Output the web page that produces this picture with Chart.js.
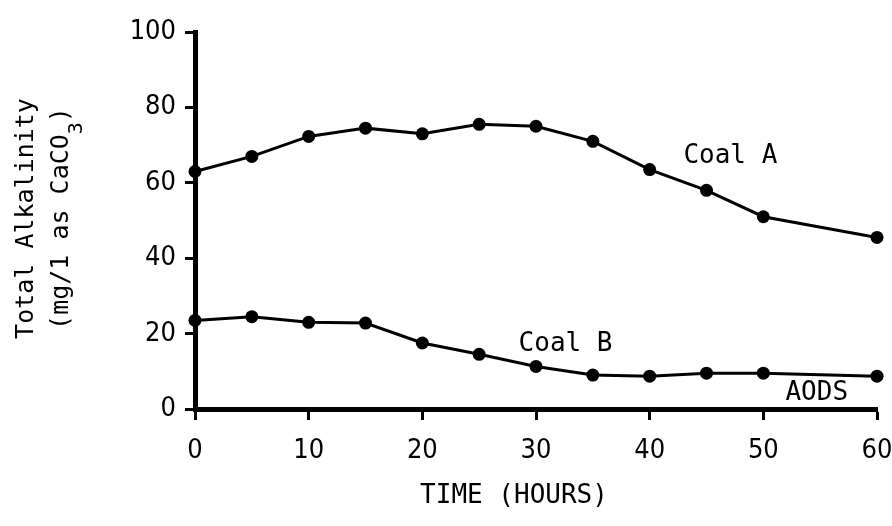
<!DOCTYPE html>
<html>
<head>
<meta charset="utf-8">
<script src="https://cdn.jsdelivr.net/npm/chart.js@4.4.1/dist/chart.umd.min.js"></script>
<style>
  html, body { margin: 0; padding: 0; background: #fff; }
  #wrap { width: 892px; height: 526px; }
</style>
</head>
<body>
<div id="wrap"><canvas id="c" width="892" height="526"></canvas></div>
<script>
// Sampling times (hours) and total alkalinity (mg/l as CaCO3) per coal
const hours = [0, 5, 10, 15, 20, 25, 30, 35, 40, 45, 50, 60];
const coalA = [63, 67, 72.3, 74.5, 73, 75.5, 75, 71, 63.5, 58, 51, 45.5];
const coalB = [23.5, 24.5, 23, 22.8, 17.5, 14.5, 11.3, 9, 8.7, 9.5, 9.5, 8.7];

// Axis ticks
const xTicks = [0, 10, 20, 30, 40, 50, 60];
const yTicks = [0, 20, 40, 60, 80, 100];

// Text drawn on the plot
const curveLabels = ['Coal A', 'Coal B', 'AODS'];
const xTitle = 'TIME (HOURS)';
const yTitleLine1 = 'Total Alkalinity';
const yTitleLine2 = ['(mg/1 as CaCO', '3', ')'];

const MONO = '"DejaVu Sans Mono", "Liberation Mono", monospace';
const NARROW = '"Liberation Sans Narrow", "DejaVu Sans Condensed", "Liberation Sans", sans-serif';

const toPoints = vals => hours.map((h, i) => ({ x: h, y: vals[i] }));

const lineStyle = {
  borderColor: '#000',
  borderWidth: 3,
  pointRadius: 6.5,
  pointHoverRadius: 6.5,
  pointBackgroundColor: '#000',
  pointBorderWidth: 0,
  tension: 0,
  fill: false,
  clip: false
};

// Curve names, axis titles (with the CaCO3 subscript)
const annotate = {
  id: 'annotate',
  afterDraw(chart) {
    const { ctx, chartArea: a, scales: { x, y } } = chart;
    ctx.save();
    ctx.fillStyle = '#000';
    ctx.textBaseline = 'alphabetic';
    ctx.textAlign = 'center';
    ctx.font = '26px ' + MONO;

    // label anchors in data units: [hours, alkalinity]
    const anchors = [[47.1, 65.2], [32.6, 15.4], [54.7, 2.4]];
    curveLabels.forEach((t, i) => {
      ctx.fillText(t, x.getPixelForValue(anchors[i][0]), y.getPixelForValue(anchors[i][1]));
    });

    ctx.fillText(xTitle, (a.left + a.right) / 2 - 22, a.bottom + 94);

    // vertical title, reading bottom to top
    const cy = (a.top + a.bottom) / 2 - 2;
    ctx.translate(0, cy);
    ctx.rotate(-Math.PI / 2);
    ctx.font = '25px ' + MONO;
    ctx.fillText(yTitleLine1, 0, 33);

    const mainFont = '25px ' + MONO, subFont = '20px ' + MONO;
    ctx.font = mainFont;
    const w1 = ctx.measureText(yTitleLine2[0]).width;
    const w3 = ctx.measureText(yTitleLine2[2]).width;
    ctx.font = subFont;
    const w2 = ctx.measureText(yTitleLine2[1]).width;
    let sx = -(w1 + w2 + w3) / 2;
    ctx.textAlign = 'left';
    ctx.font = mainFont;
    ctx.fillText(yTitleLine2[0], sx, 68);
    sx += w1;
    ctx.font = subFont;
    ctx.fillText(yTitleLine2[1], sx, 82);
    sx += w2;
    ctx.font = mainFont;
    ctx.fillText(yTitleLine2[2], sx, 68);
    ctx.restore();
  }
};

new Chart(document.getElementById('c'), {
  type: 'line',
  data: {
    datasets: [
      Object.assign({ label: curveLabels[0], data: toPoints(coalA) }, lineStyle),
      Object.assign({ label: curveLabels[1], data: toPoints(coalB) }, lineStyle)
    ]
  },
  options: {
    responsive: false,
    devicePixelRatio: 1,
    animation: false,
    layout: { padding: { top: 32, right: 15, left: 0, bottom: 0 } },
    plugins: { legend: { display: false }, tooltip: { enabled: false } },
    scales: {
      x: {
        type: 'linear',
        min: xTicks[0],
        max: xTicks[xTicks.length - 1],
        afterBuildTicks: s => { s.ticks = xTicks.map(v => ({ value: v })); },
        ticks: { color: '#000', font: { family: NARROW, size: 27 }, padding: 15, maxRotation: 0, autoSkip: false },
        grid: { drawOnChartArea: false, drawTicks: true, tickLength: 11, tickWidth: 3, tickColor: '#000' },
        border: { display: true, color: '#000', width: 5 },
        afterFit: s => { s.height = 117; s.paddingLeft = 0; s.paddingRight = 0; }
      },
      y: {
        type: 'linear',
        min: yTicks[0],
        max: yTicks[yTicks.length - 1],
        afterBuildTicks: s => { s.ticks = yTicks.map(v => ({ value: v })); },
        ticks: { color: '#000', font: { family: NARROW, size: 27 }, padding: 9, autoSkip: false },
        grid: { drawOnChartArea: false, drawTicks: true, tickLength: 10, tickWidth: 3, tickColor: '#000' },
        border: { display: true, color: '#000', width: 5 },
        afterFit: s => { s.width = 195; s.paddingTop = 0; s.paddingBottom = 0; }
      }
    }
  },
  plugins: [annotate]
});
</script>
</body>
</html>
